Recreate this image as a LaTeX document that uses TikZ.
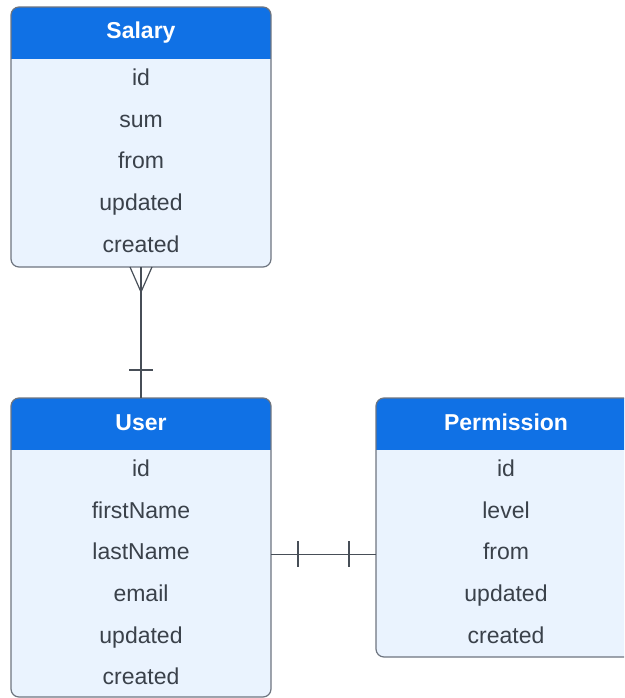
\documentclass[tikz,border=0pt]{standalone}
\usepackage{fontspec}
\setmainfont{Liberation Sans}
\usetikzlibrary{positioning,calc}
\definecolor{headblue}{HTML}{1071E5}
\definecolor{bodyblue}{HTML}{EAF3FE}
\definecolor{edgegray}{HTML}{6E7580}
\definecolor{textgray}{HTML}{3A414A}
\definecolor{linegray}{HTML}{474E57}

\begin{document}
\begin{tikzpicture}[x=1pt,y=-1pt,node distance=0pt,
    entity/.style={draw=edgegray,line width=1.2pt,fill=bodyblue,rounded corners=8pt,minimum width=260pt,inner sep=0pt,outer sep=0pt,
        path picture={\fill[headblue,sharp corners] (path picture bounding box.north west) rectangle ([yshift=-52pt]path picture bounding box.north east);}},
    head/.style={minimum width=260pt,minimum height=52pt,inner sep=0pt,outer sep=0pt,text=white,text height=17pt,text depth=5pt,font=\fontsize{23}{28}\selectfont\bfseries},
    field/.style={minimum width=260pt,minimum height=41.7pt,inner sep=0pt,outer sep=0pt,text=textgray,text height=16pt,text depth=5pt,font=\fontsize{23}{28}\selectfont},
    rel/.style={draw=linegray,line width=1.2pt}]

    \useasboundingbox (0,0) rectangle (624,698);
    \clip (0,0) rectangle (624,698);

    \node[entity,minimum height=260pt] (salary) at (141,137){};
    \node[head] (salaryhead) [below=of salary.north]{Salary};
    \node[field] (salaryid) [below=of salaryhead]{id};
    \node[field] (salarysum) [below=of salaryid]{sum};
    \node[field] (salaryfrom) [below=of salarysum]{from};
    \node[field] (salaryupd) [below=of salaryfrom]{updated};
    \node[field] (salarycre) [below=of salaryupd]{created};

    \node[entity,minimum height=299pt] (user) at (141,547.5){};
    \node[head] (userhead) [below=of user.north]{User};
    \node[field] (userid) [below=of userhead]{id};
    \node[field] (userfirst) [below=of userid]{firstName};
    \node[field] (userlast) [below=of userfirst]{lastName};
    \node[field] (usermail) [below=of userlast]{email};
    \node[field] (userupd) [below=of usermail]{updated};
    \node[field] (usercre) [below=of userupd]{created};

    \node[entity,minimum height=259pt] (perm) at (506,527.5){};
    \node[head] (permhead) [below=of perm.north]{Permission};
    \node[field] (permid) [below=of permhead]{id};
    \node[field] (permlevel) [below=of permid]{level};
    \node[field] (permfrom) [below=of permlevel]{from};
    \node[field] (permupd) [below=of permfrom]{updated};
    \node[field] (permcre) [below=of permupd]{created};

    \coordinate (ua) at (user.east |- userlast);
    \coordinate (pa) at (perm.west |- userlast);

    \draw[rel] (salary.south) -- (user.north);
    \draw[rel] ($(salary.south)+(-11,0)$) -- ($(salary.south)+(0,25)$) -- ($(salary.south)+(11,0)$);
    \draw[rel] ($(user.north)+(-12,-28)$) -- ($(user.north)+(12,-28)$);

    \draw[rel] (ua) -- (pa);
    \draw[rel] ($(ua)+(27,-13)$) -- ($(ua)+(27,13)$);
    \draw[rel] ($(pa)+(-27,-13)$) -- ($(pa)+(-27,13)$);
\end{tikzpicture}
\end{document}
